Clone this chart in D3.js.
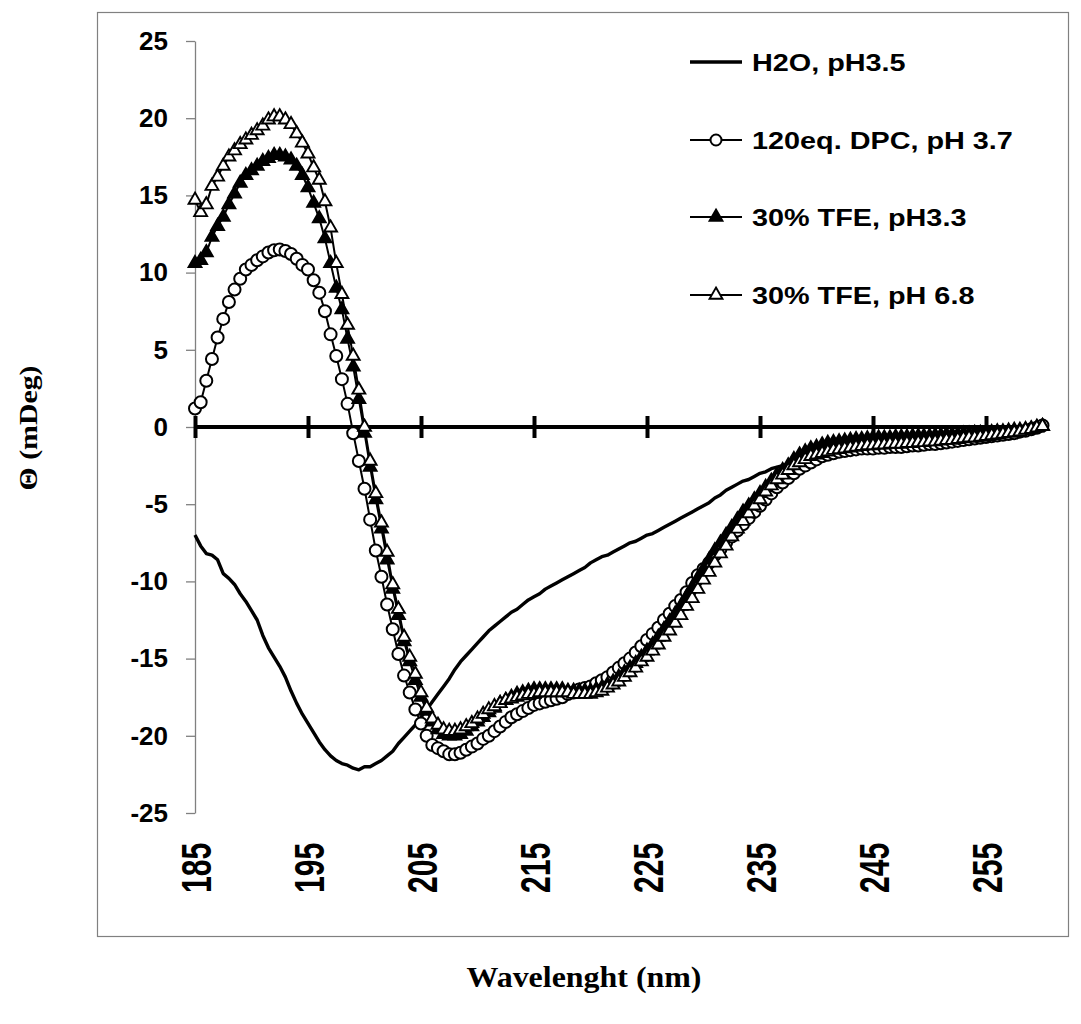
<!DOCTYPE html>
<html><head><meta charset="utf-8">
<script src="https://cdn.jsdelivr.net/npm/d3@7"></script>
<style>body{margin:0;background:#fff}</style></head>
<body>
<svg id="c" width="1081" height="1024"></svg>
<script>
// ---- data ----
const wavelengths = [185,185.5,186,186.5,187,187.5,188,188.5,189,189.5,
190,190.5,191,191.5,192,192.5,193,193.5,194,194.5,
195,195.5,196,196.5,197,197.5,198,198.5,199,199.5,
200,200.5,201,201.5,202,202.5,203,203.5,204,204.5,
205,205.5,206,206.5,207,207.5,208,208.5,209,209.5,
210,210.5,211,211.5,212,212.5,213,213.5,214,214.5,
215,215.5,216,216.5,217,217.5,218,218.5,219,219.5,
220,220.5,221,221.5,222,222.5,223,223.5,224,224.5,
225,225.5,226,226.5,227,227.5,228,228.5,229,229.5,
230,230.5,231,231.5,232,232.5,233,233.5,234,234.5,
235,235.5,236,236.5,237,237.5,238,238.5,239,239.5,
240,240.5,241,241.5,242,242.5,243,243.5,244,244.5,
245,245.5,246,246.5,247,247.5,248,248.5,249,249.5,
250,250.5,251,251.5,252,252.5,253,253.5,254,254.5,
255,255.5,256,256.5,257,257.5,258,258.5,259,259.5,260];

const h2o = [-7.0,-7.7,-8.2,-8.3,-8.6,-9.5,-9.8,-10.2,-10.8,-11.3,
-11.9,-12.5,-13.5,-14.3,-14.9,-15.5,-16.2,-17.1,-17.9,-18.6,
-19.2,-19.8,-20.4,-20.9,-21.3,-21.6,-21.8,-21.9,-22.1,-22.2,
-22.0,-22.0,-21.8,-21.6,-21.3,-21.0,-20.5,-20.1,-19.7,-19.3,
-18.8,-18.3,-17.8,-17.3,-16.8,-16.3,-15.7,-15.2,-14.8,-14.4,
-14.0,-13.6,-13.2,-12.9,-12.6,-12.3,-12.0,-11.8,-11.5,-11.2,
-11.0,-10.8,-10.5,-10.3,-10.1,-9.9,-9.7,-9.5,-9.3,-9.1,
-8.8,-8.6,-8.4,-8.3,-8.1,-7.9,-7.7,-7.5,-7.4,-7.2,
-7.0,-6.9,-6.7,-6.5,-6.3,-6.1,-5.9,-5.7,-5.5,-5.3,
-5.1,-4.9,-4.6,-4.4,-4.1,-3.9,-3.7,-3.5,-3.4,-3.2,
-3.0,-2.9,-2.7,-2.6,-2.5,-2.4,-2.2,-2.1,-1.9,-1.8,
-1.7,-1.6,-1.6,-1.5,-1.5,-1.5,-1.4,-1.4,-1.4,-1.4,
-1.4,-1.4,-1.35,-1.35,-1.3,-1.3,-1.3,-1.25,-1.2,-1.2,
-1.15,-1.1,-1.05,-1.0,-1.0,-0.95,-0.9,-0.85,-0.8,-0.75,
-0.7,-0.65,-0.6,-0.55,-0.45,-0.4,-0.3,-0.2,-0.1,0.0,0.05];

const dpc = [1.2,1.6,3.0,4.4,5.8,7.0,8.1,8.9,9.6,10.2,
10.5,10.8,11.05,11.3,11.45,11.5,11.4,11.2,10.9,10.5,
10.2,9.5,8.7,7.5,6.0,4.6,3.1,1.5,-0.4,-2.2,
-4.0,-6.0,-8.0,-9.7,-11.5,-13.1,-14.7,-16.1,-17.2,-18.3,
-19.2,-20.0,-20.6,-20.8,-21.0,-21.2,-21.2,-21.1,-20.9,-20.7,
-20.5,-20.2,-20.0,-19.7,-19.4,-19.1,-18.8,-18.6,-18.4,-18.2,
-18.0,-17.9,-17.8,-17.7,-17.6,-17.5,-17.3,-17.2,-17.0,-16.9,
-16.8,-16.6,-16.4,-16.2,-15.9,-15.6,-15.3,-15.0,-14.6,-14.2,
-13.8,-13.4,-13.0,-12.5,-12.1,-11.6,-11.2,-10.7,-10.1,-9.6,
-9.2,-8.8,-8.3,-7.9,-7.5,-7.1,-6.7,-6.3,-5.9,-5.5,
-5.1,-4.7,-4.3,-3.9,-3.6,-3.3,-3.0,-2.7,-2.5,-2.3,
-2.1,-1.9,-1.8,-1.7,-1.6,-1.55,-1.5,-1.45,-1.4,-1.4,
-1.4,-1.35,-1.35,-1.3,-1.3,-1.3,-1.25,-1.2,-1.2,-1.15,
-1.1,-1.1,-1.05,-1.0,-0.95,-0.9,-0.85,-0.8,-0.75,-0.7,
-0.65,-0.6,-0.55,-0.5,-0.45,-0.4,-0.3,-0.25,-0.15,-0.05,0.1];

const tfe33 = [10.6,10.8,11.3,12.3,13.0,13.6,14.4,15.1,15.8,16.3,
16.6,16.9,17.2,17.4,17.6,17.6,17.5,17.3,16.9,16.3,
15.5,14.5,13.5,12.2,10.6,9.0,7.6,5.7,3.9,1.8,
-0.4,-2.6,-4.7,-6.6,-8.6,-10.5,-12.2,-13.9,-15.2,-16.4,
-17.5,-18.4,-19.1,-19.6,-19.9,-20.0,-20.0,-19.9,-19.7,-19.4,
-19.1,-18.8,-18.5,-18.2,-17.9,-17.7,-17.5,-17.3,-17.2,-17.1,
-17.0,-17.0,-17.0,-17.0,-17.0,-17.0,-17.1,-17.1,-17.1,-17.1,
-17.1,-17.0,-16.9,-16.7,-16.5,-16.2,-15.9,-15.6,-15.3,-14.9,
-14.5,-14.1,-13.6,-13.1,-12.6,-12.1,-11.6,-11.0,-10.4,-9.8,
-9.2,-8.6,-8.0,-7.5,-7.0,-6.5,-6.0,-5.5,-5.1,-4.7,
-4.3,-3.9,-3.5,-3.1,-2.8,-2.5,-2.1,-1.8,-1.6,-1.4,
-1.3,-1.15,-1.05,-1.0,-0.95,-0.9,-0.85,-0.8,-0.8,-0.75,
-0.7,-0.7,-0.7,-0.7,-0.65,-0.65,-0.65,-0.6,-0.6,-0.6,
-0.6,-0.55,-0.55,-0.5,-0.5,-0.5,-0.45,-0.45,-0.4,-0.4,
-0.35,-0.35,-0.3,-0.3,-0.25,-0.2,-0.2,-0.15,-0.1,0.0,0.05];

const tfe68 = [14.7,13.9,14.4,15.6,16.2,16.9,17.5,17.9,18.3,18.6,
18.9,19.2,19.5,19.9,20.1,20.1,19.9,19.6,19.0,18.4,
17.7,16.8,16.0,14.6,12.9,10.6,8.6,6.6,4.6,2.4,
0.0,-2.2,-4.3,-6.2,-8.1,-10.2,-11.8,-13.6,-14.9,-16.0,
-17.2,-18.2,-18.9,-19.3,-19.6,-19.7,-19.7,-19.6,-19.4,-19.2,
-18.9,-18.6,-18.3,-18.1,-17.9,-17.7,-17.6,-17.5,-17.4,-17.3,
-17.3,-17.2,-17.2,-17.2,-17.2,-17.2,-17.2,-17.3,-17.3,-17.3,
-17.3,-17.2,-17.1,-16.9,-16.7,-16.5,-16.2,-15.9,-15.6,-15.2,
-14.9,-14.5,-14.1,-13.6,-13.2,-12.7,-12.2,-11.6,-11.1,-10.5,
-9.9,-9.4,-8.8,-8.2,-7.7,-7.1,-6.6,-6.1,-5.6,-5.1,
-4.7,-4.2,-3.8,-3.4,-3.1,-2.8,-2.5,-2.3,-2.1,-1.9,
-1.8,-1.7,-1.6,-1.5,-1.45,-1.4,-1.35,-1.3,-1.25,-1.2,
-1.2,-1.15,-1.15,-1.1,-1.1,-1.1,-1.05,-1.05,-1.0,-1.0,
-0.95,-0.95,-0.9,-0.85,-0.85,-0.8,-0.75,-0.7,-0.7,-0.65,
-0.6,-0.55,-0.5,-0.45,-0.4,-0.35,-0.3,-0.2,-0.15,-0.05,0.05];

const seriesNames = ["H2O, pH3.5", "120eq. DPC, pH 3.7", "30% TFE, pH3.3", "30% TFE, pH 6.8"];
const yTicks = [25,20,15,10,5,0,-5,-10,-15,-20,-25];
const xTicks = [185,195,205,215,225,235,245,255];
const xTitle = "Wavelenght (nm)";
const yTitle = "\u0398 (mDeg)";

// ---- chart ----
const svg = d3.select("#c");
const x = d3.scaleLinear().domain([185,260]).range([195,1042.5]);
const y = d3.scaleLinear().domain([-25,25]).range([813,41]);

// outer border
svg.append("rect").attr("x",97.5).attr("y",12.5).attr("width",971).attr("height",924)
  .attr("fill","none").attr("stroke","#808080").attr("stroke-width",1.2);

// y axis
const gy = svg.append("g").attr("transform","translate(195,0)")
  .call(d3.axisLeft(y).tickValues(yTicks).tickSizeInner(9).tickSizeOuter(0).tickPadding(18).tickFormat(d=>d));
gy.select(".domain").attr("stroke","#808080").attr("stroke-width",1.3);
gy.selectAll(".tick line").attr("stroke","#808080").attr("stroke-width",1.3);
gy.selectAll(".tick text").attr("font-family","Arial, 'Liberation Sans', sans-serif")
  .attr("font-weight","bold").attr("font-size",26).attr("fill","#000");

// x axis at zero
const gx = svg.append("g").attr("transform",`translate(0,${y(0)})`)
  .call(d3.axisBottom(x).tickValues(xTicks).tickSizeInner(11).tickSizeOuter(0).tickFormat(""));
gx.select(".domain").attr("stroke","#000").attr("stroke-width",4)
  .attr("d",`M${x(185)},0H${x(260)}`);
gx.selectAll(".tick line").attr("stroke","#000").attr("stroke-width",4).attr("y1",-11).attr("y2",11);

// x tick labels at bottom
const gxl = svg.append("g").attr("transform","translate(0,893)")
  .call(d3.axisBottom(x).tickValues(xTicks).tickSize(0).tickFormat(d=>d));
gxl.select(".domain").remove();
gxl.selectAll(".tick text").attr("x",0).attr("y",0).attr("dy","0.36em")
  .attr("text-anchor","start").attr("transform","rotate(-90) scale(0.7,1)")
  .attr("font-family","Arial, 'Liberation Sans', sans-serif").attr("font-weight","bold")
  .attr("font-size",43).attr("fill","#000");

// series
const line = d3.line().x((d,i)=>x(wavelengths[i])).y(d=>y(d));
const plot = svg.append("g");
plot.append("path").datum(h2o).attr("d",line).attr("fill","none").attr("stroke","#000").attr("stroke-width",3.4).attr("stroke-linejoin","round");

const triSize = 72;
function markerSeries(vals, kind){
  const g = plot.append("g");
  g.append("path").datum(vals).attr("d",line).attr("fill","none").attr("stroke","#000").attr("stroke-width",2);
  if(kind==="circle"){
    g.selectAll("circle").data(vals).join("circle")
      .attr("cx",(d,i)=>x(wavelengths[i])).attr("cy",d=>y(d)).attr("r",6)
      .attr("fill","#fff").attr("stroke","#000").attr("stroke-width",2);
  } else {
    const sym = d3.symbol().type(d3.symbolTriangle).size(triSize);
    g.selectAll("path.m").data(vals).join("path").attr("class","m")
      .attr("d",sym()).attr("transform",(d,i)=>`translate(${x(wavelengths[i])},${y(d)})`)
      .attr("fill",kind==="filled"?"#000":"#fff").attr("stroke","#000").attr("stroke-width",1.9);
  }
}
markerSeries(dpc,"circle");
markerSeries(tfe33,"filled");
markerSeries(tfe68,"open");

// legend
const legRows = [62,140,217,295];
const leg = svg.append("g");
legRows.forEach((ry,i)=>{
  leg.append("line").attr("x1",690).attr("x2",742).attr("y1",ry).attr("y2",ry)
    .attr("stroke","#000").attr("stroke-width",i===0?3.4:2);
  if(i===1){
    leg.append("circle").attr("cx",716).attr("cy",ry).attr("r",5.5).attr("fill","#fff").attr("stroke","#000").attr("stroke-width",2);
  } else if(i>1){
    leg.append("path").attr("d",d3.symbol().type(d3.symbolTriangle).size(triSize)()).attr("transform",`translate(716,${ry})`)
      .attr("fill",i===2?"#000":"#fff").attr("stroke","#000").attr("stroke-width",1.9);
  }
  leg.append("text").attr("transform",`translate(752,${ry}) scale(1.2,1)`).attr("dy","0.36em")
    .attr("font-family","Arial, 'Liberation Sans', sans-serif").attr("font-weight","bold").attr("font-size",24)
    .attr("fill","#000").text(seriesNames[i]);
});

// titles
svg.append("text").attr("x",584).attr("y",977).attr("dy","0.35em").attr("text-anchor","middle")
  .attr("font-family","'Times New Roman', 'Liberation Serif', serif").attr("font-weight","bold").attr("font-size",29)
  .attr("textLength",235).attr("lengthAdjust","spacingAndGlyphs").text(xTitle);
svg.append("text").attr("transform","translate(28,428) rotate(-90)").attr("dy","0.35em").attr("text-anchor","middle")
  .attr("font-family","'Times New Roman', 'Liberation Serif', serif").attr("font-weight","bold").attr("font-size",26)
  .attr("textLength",125).attr("lengthAdjust","spacingAndGlyphs").text(yTitle);
</script>
</body></html>
